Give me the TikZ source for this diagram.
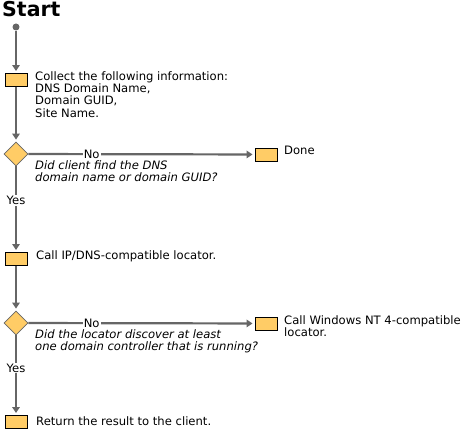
\documentclass[tikz,border=0pt]{standalone}
\usepackage{fontspec}
\setmainfont{DejaVu Sans}
\usetikzlibrary{positioning,shapes,arrows.meta,calc}
\definecolor{boxfill}{HTML}{FFCC66}
\definecolor{linegray}{HTML}{666666}

\begin{document}
\begin{tikzpicture}[x=1pt,y=-1pt,
  stepbox/.style={draw=black,fill=boxfill,line width=0.9pt,minimum width=22pt,minimum height=13pt,inner sep=0pt},
  decide/.style={diamond,draw=linegray,fill=boxfill,line width=0.8pt,minimum width=24pt,minimum height=24pt,inner sep=0pt},
  flow/.style={draw=linegray,line width=2.2pt,-{Triangle[length=6pt,width=7.5pt]},shorten >=2pt},
  txt/.style={font=\fontsize{11.6}{12.4}\selectfont,align=left,inner sep=0pt,anchor=north west},
  lbl/.style={font=\fontsize{11.6}{12}\selectfont,fill=white,inner sep=1pt}]
  \useasboundingbox (0,0) rectangle (464,435);

  \node[font=\fontsize{20.5}{21}\selectfont\bfseries,anchor=west,inner sep=0pt] (start) at (2,9.5) {Start};
  \node[circle,fill=linegray,minimum size=7pt,inner sep=0pt] (s0) at (16,27) {};

  % main column
  \node[stepbox] (b1) at (16,80) {};
  \node[decide] (d1) at (16,154) {};
  \node[stepbox] (b2) at (16,259) {};
  \node[decide] (d2) at (16,323) {};
  \node[stepbox] (b4) at (16,422) {};

  % side boxes
  \node[stepbox] (done) at (266,154.5) {};
  \node[stepbox] (nt) at (266,323.5) {};

  \draw[flow] (s0) -- (b1);
  \draw[flow] (b1) -- (d1);
  \draw[flow] (d1) -- node[lbl,pos=0.28] {No} (done);
  \draw[flow] (d1) -- node[lbl,pos=0.4] {Yes} (b2);
  \draw[flow] (b2) -- (d2);
  \draw[flow] (d2) -- node[lbl,pos=0.28] {No} (nt);
  \draw[flow] (d2) -- node[lbl,pos=0.41] {Yes} (b4);

  \node[txt] (t1) at (35,71) {Collect the following information:\\DNS Domain Name,\\Domain GUID,\\Site Name.};
  \node[txt,font=\fontsize{11.6}{12.6}\selectfont\itshape] (q1) at (35,160) {Did client find the DNS\\domain name or domain GUID?};
  \node[txt] (t2) at (284,146) {Done};
  \node[txt] (t3) at (36,250) {Call IP/DNS-compatible locator.};
  \node[txt,font=\fontsize{11.6}{12.6}\selectfont\itshape] (q2) at (35,329) {Did the locator discover at least\\one domain controller that is running?};
  \node[txt] (t5) at (284,315) {Call Windows NT 4-compatible\\locator.};
  \node[txt] (t4) at (36,416) {Return the result to the client.};
\end{tikzpicture}
\end{document}
